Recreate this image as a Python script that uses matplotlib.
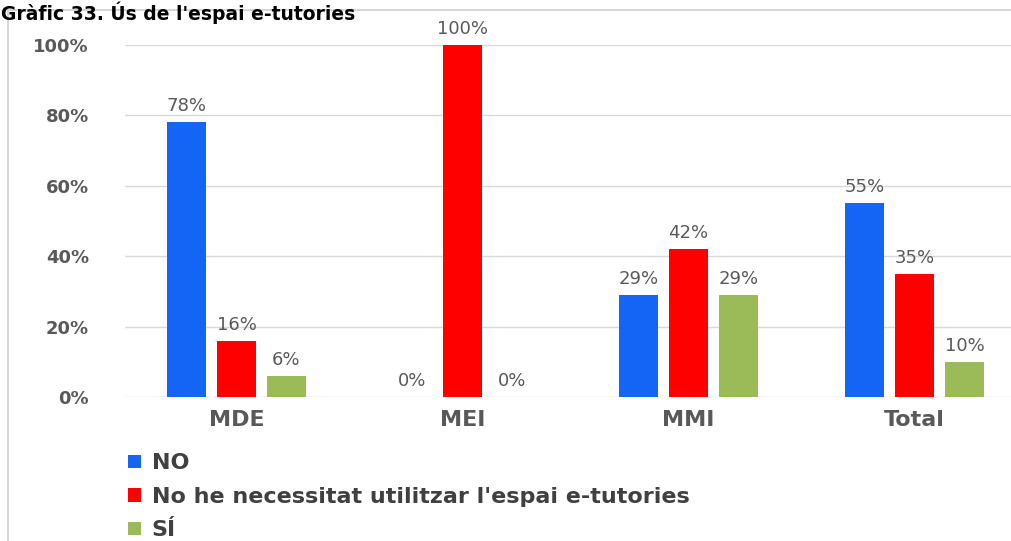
import matplotlib
matplotlib.use("Agg")
import matplotlib.pyplot as plt
from matplotlib.lines import Line2D
import numpy as np

categories = ["MDE", "MEI", "MMI", "Total"]
series_names = ["NO", "No he necessitat utilitzar l'espai e-tutories", "SÍ"]
no_vals = [78, 0, 29, 55]
no_need_vals = [16, 100, 42, 35]
si_vals = [6, 0, 29, 10]
yticks = [0, 20, 40, 60, 80, 100]
ytick_labels = ["0%", "20%", "40%", "60%", "80%", "100%"]
title = "Gràfic 33. Ús de l'espai e-tutories"

colors = ["#1464F6", "#FF0000", "#9BBB59"]
W, H = 1012, 541
fig = plt.figure(figsize=(W / 100, H / 100), dpi=100)
fig.patch.set_facecolor("white")

ax = fig.add_axes([125 / W, 1 - 397 / H, (W - 125) / W, (397 - 45) / H])
x = np.arange(len(categories))
step = 50 / 226
bw = 39 / 226
gray = "#595959"
for i, (vals, c, name) in enumerate(zip([no_vals, no_need_vals, si_vals], colors, series_names)):
    xs = x + (i - 1) * step
    ax.bar(xs, vals, width=bw, color=c, label=name, zorder=3)
    for xi, v in zip(xs, vals):
        ax.annotate(f"{v}%", (xi, v), xytext=(0, 5), textcoords="offset points",
                    ha="center", va="bottom", fontsize=13, color=gray, clip_on=False)

ax.set_xlim((125 - 236.5) / 226, (W - 236.5) / 226)
ax.set_ylim(0, 100)
ax.set_yticks(yticks)
ax.set_yticklabels(ytick_labels, fontsize=13, fontweight="bold", color=gray)
ax.tick_params(axis="y", length=0, pad=26)
ax.set_xticks(x)
ax.set_xticklabels(categories, fontsize=16, fontweight="bold", color=gray)
ax.tick_params(axis="x", length=0, pad=9)
ax.grid(axis="y", color="#D9D9D9", linewidth=1, zorder=0)
for s in ax.spines.values():
    s.set_visible(False)

# figure frame lines
fig.add_artist(Line2D([8 / W, 8 / W], [0, 1 - 10 / H], color="#D0D0D0", lw=1.2))
fig.add_artist(Line2D([8 / W, 1], [1 - 10 / H, 1 - 10 / H], color="#D0D0D0", lw=1.2))

fig.text(1 / W, 1 - 1 / H, title, fontsize=13.5, fontweight="bold", color="black",
         ha="left", va="top")

fig.legend(loc="upper left", bbox_to_anchor=(124 / W, 1 - 449 / H), frameon=False,
           handlelength=0.55, handleheight=0.55, handletextpad=0.5,
           labelspacing=0.6, labelcolor="#404040",
           prop={"weight": "bold", "size": 16}, borderaxespad=0, borderpad=0.2)

fig.savefig("out.png", dpi=100)
